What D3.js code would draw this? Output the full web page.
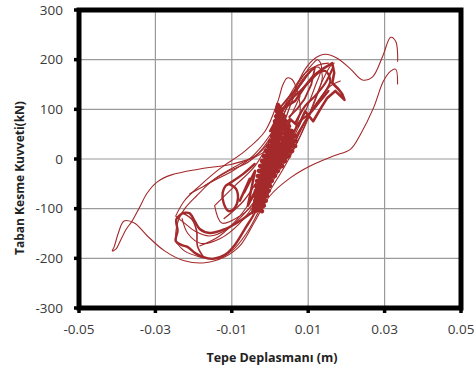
<!DOCTYPE html>
<html><head><meta charset="utf-8">
<script src="https://cdn.jsdelivr.net/npm/d3@7"></script>
<style>body{margin:0;background:#fff}svg{display:block}</style>
</head><body>
<svg id="c" width="474" height="370"></svg>
<script>
const xTicks = [-0.05, -0.03, -0.01, 0.01, 0.03, 0.05];
const xTickLabels = ["-0.05", "-0.03", "-0.01", "0.01", "0.03", "0.05"];
const yTicks = [-300, -200, -100, 0, 100, 200, 300];
const xTitle = "Tepe Deplasmanı (m)";
const yTitle = "Taban Kesme Kuvveti(kN)";

// [displacement (m), base shear (kN)]
const outerLoop = [[0.0334,151],[0.0329,181],[0.0316,177],[0.0297,157],[0.0271,103],[0.0237,50],[0.0211,20],[0.0166,6],[0.0105,-14],[0.0053,-38],[0,-74],[-0.0039,-125],[-0.0079,-175],[-0.0118,-197],[-0.0171,-209],[-0.0224,-205],[-0.0276,-185],[-0.0321,-155],[-0.0355,-129],[-0.0382,-125],[-0.0397,-149],[-0.0408,-177],[-0.0413,-185],[-0.0403,-181],[-0.0392,-165],[-0.0376,-141],[-0.0361,-125],[-0.0342,-98],[-0.0321,-68],[-0.0295,-46],[-0.0258,-32],[-0.0184,-20],[-0.0097,-10],[-0.0039,6],[0,36],[0.0034,86],[0.0066,141],[0.0092,181],[0.0118,203],[0.0145,211],[0.0176,203],[0.0211,181],[0.0242,159],[0.0268,165],[0.0295,207],[0.0316,245],[0.0329,237],[0.0334,213],[0.0334,197]];
const secondLoop = [[0.0079,127],[0.0039,66],[-0.0013,16],[-0.0079,-10],[-0.0145,-40],[-0.0192,-74],[-0.0224,-101],[-0.0242,-129],[-0.0245,-165],[-0.0224,-185],[-0.0184,-197],[-0.0145,-201],[-0.0100,-185],[-0.0061,-149],[-0.0032,-109],[0,-64],[0.0039,-14],[0.0079,46],[0.0111,107],[0.0137,157],[0.0158,187],[0.0168,193]];
const thirdLoop = [[-0.0247,-115],[-0.0224,-84],[-0.0184,-54],[-0.0132,-20],[-0.0066,16],[-0.0013,56],[0.0021,117],[0.0034,150],[0.0045,163],[0.0058,160],[0.0071,137],[0.0079,96],[0.0053,36],[0.0021,-14],[-0.0021,-64],[-0.0066,-109],[-0.0111,-141],[-0.0158,-155],[-0.0197,-145],[-0.0224,-129],[-0.0247,-115]];
const innerLoop = [[-0.0145,-94],[-0.0092,-54],[-0.0039,-14],[0.0013,56],[0.0053,117],[0.0092,167],[0.0126,185],[0.0137,167],[0.0118,117],[0.0079,46],[0.0032,-14],[-0.0021,-74],[-0.0079,-115],[-0.0126,-129],[-0.0145,-94]];
const fourthLoop = [[-0.0210,-70],[-0.0150,-45],[-0.0090,-20],[-0.0040,10],[0.0010,60],[0.0050,120],[0.0085,165],[0.0110,190],[0.0125,200],[0.0135,185],[0.0120,150],[0.0095,100],[0.0060,40],[0.0020,-20],[-0.0030,-80],[-0.0080,-130],[-0.0130,-160],[-0.0180,-170],[-0.0215,-150],[-0.0230,-120]];
const upperBranch = [[-0.0171,-54],[-0.0118,-28],[-0.0053,-4],[-0.0005,36],[0.0026,86],[0.0058,137],[0.0092,173],[0.0126,189],[0.0153,193]];
const lowerBranch = [[-0.0184,-175],[-0.0132,-155],[-0.0079,-115],[-0.0032,-64],[0.0013,-14],[0.0058,36],[0.0092,76],[0.0126,117],[0.0158,147],[0.0184,157]];
const midBranch = [[-0.0120,-120],[-0.0070,-85],[-0.0030,-40],[0.0010,20],[0.0040,80],[0.0065,130],[0.0090,160],[0.0105,175]];
const posCluster1 = [[0.0005,46],[0.0013,76],[0.0032,101],[0.0066,117],[0.0092,147],[0.0113,167],[0.0137,181],[0.0163,193],[0.0168,173],[0.0163,153],[0.0179,141],[0.0189,131],[0.0195,119],[0.0187,125],[0.0171,137],[0.0150,123],[0.0132,101],[0.0113,76],[0.0092,96],[0.0074,66],[0.0053,80],[0.0039,46],[0.0021,16]];
const posCluster2 = [[0,56],[0.0039,107],[0.0079,137],[0.0105,157],[0.0126,173],[0.0145,177],[0.0158,157],[0.0137,127],[0.0118,107],[0.0092,76],[0.0066,36]];
const posCluster3 = [[0.0026,103],[0.0055,130],[0.0080,150],[0.0100,172],[0.0118,185],[0.0108,150],[0.0090,120],[0.0070,100],[0.0050,85]];
const posFan1 = [[0.0066,72],[0.0092,107],[0.0118,127],[0.0145,153],[0.0163,181]];
const posFan2 = [[0.0053,36],[0.0079,76],[0.0105,92],[0.0132,117],[0.0153,137]];
const coreBand = [[-0.0039,-105],[-0.0016,-94],[-0.0039,-84],[-0.0008,-74],[-0.0037,-64],[0,-54],[-0.0034,-44],[0.0013,-34],[-0.0029,-24],[0.0032,-14],[-0.0021,-4],[0.0050,6],[-0.0011,16],[0.0066,26],[0,36],[0.0066,46],[0.0008,56],[0.0050,66],[0.0013,76],[0.0037,86],[0.0018,96],[0.0021,109],
  [0.0029,96],[0.0016,86],[0.0042,76],[0.0011,66],[0.0058,56],[0.0005,46],[0.0068,36],[-0.0005,26],[0.0058,16],[-0.0016,6],[0.0039,-4],[-0.0026,-14],[0.0021,-24],[-0.0032,-34],[0.0005,-44],[-0.0037,-54],[-0.0003,-64],[-0.0039,-74],[-0.0011,-84],[-0.0042,-94],[-0.0021,-105]];
const coreSpikes = [[-0.0079,-84],[-0.0053,-40],[-0.0068,-68],[-0.0039,-24],[-0.0058,-94],[-0.0032,-54],[-0.0047,-109],[-0.0026,-80],[-0.0039,-100]];
const negCluster = [[-0.0229,-109],[-0.0245,-121],[-0.0242,-145],[-0.0247,-165],[-0.0232,-173],[-0.0216,-177],[-0.0197,-189],[-0.0176,-197],[-0.0150,-201],[-0.0118,-193],[-0.0092,-173],[-0.0066,-141],[-0.0039,-105],[-0.0079,-125],[-0.0118,-141],[-0.0158,-149],[-0.0184,-141],[-0.0197,-125],[-0.0211,-109],[-0.0229,-109]];
const negInner = [[-0.0229,-109],[-0.0205,-121],[-0.0192,-145],[-0.0190,-175],[-0.0176,-195]];
const smallLoop = [[-0.0108,-50],[-0.0089,-60],[-0.0084,-80],[-0.0092,-98],[-0.0108,-105],[-0.0121,-90],[-0.0124,-68],[-0.0116,-54],[-0.0108,-50],[-0.0070,-30],[-0.0040,-10]];

const svg = d3.select("#c");
const L = 79, R = 461, T = 10, B = 308;
const x = d3.scaleLinear().domain([-0.05, 0.05]).range([L, R]);
const y = d3.scaleLinear().domain([-300, 300]).range([B, T]);

// grid
svg.append("g").selectAll("line").data(xTicks).join("line")
  .attr("x1", d => x(d)).attr("x2", d => x(d)).attr("y1", T).attr("y2", B)
  .attr("stroke", "#9a9a9a").attr("stroke-width", 1.2);
svg.append("g").selectAll("line").data(yTicks).join("line")
  .attr("x1", L).attr("x2", R).attr("y1", d => y(d)).attr("y2", d => y(d))
  .attr("stroke", "#9a9a9a").attr("stroke-width", 1.2);

svg.append("clipPath").attr("id", "clip").append("rect")
  .attr("x", L).attr("y", T).attr("width", R - L).attr("height", B - T);
const plot = svg.append("g").attr("clip-path", "url(#clip)");
const color = "#a3292b";
const smooth = d3.line().x(d => x(d[0])).y(d => y(d[1])).curve(d3.curveCatmullRom.alpha(0.5));
const jag = d3.line().x(d => x(d[0])).y(d => y(d[1]));

const series = [
  {d: outerLoop, w: 1.1, f: smooth},
  {d: secondLoop, w: 1.1, f: smooth},
  {d: thirdLoop, w: 1.1, f: smooth},
  {d: innerLoop, w: 1.1, f: smooth},
  {d: fourthLoop, w: 1.1, f: smooth},
  {d: upperBranch, w: 1.1, f: smooth},
  {d: lowerBranch, w: 1.1, f: smooth},
  {d: midBranch, w: 1.3, f: smooth},
  {d: posCluster1, w: 2.6, f: jag},
  {d: posCluster2, w: 2.2, f: smooth},
  {d: posCluster3, w: 1.8, f: jag},
  {d: posFan1, w: 2.2, f: smooth},
  {d: posFan2, w: 2.2, f: smooth},
  {d: coreBand, w: 4.5, f: jag},
  {d: coreSpikes, w: 2.5, f: jag},
  {d: negCluster, w: 2.4, f: smooth},
  {d: negInner, w: 1.6, f: smooth},
  {d: smallLoop, w: 2.4, f: smooth}
];
plot.selectAll("path").data(series).join("path")
  .attr("d", s => s.f(s.d)).attr("fill", "none")
  .attr("stroke", color).attr("stroke-width", s => s.w)
  .attr("stroke-linejoin", "round").attr("stroke-linecap", "round");

// frame
svg.append("rect").attr("x", L).attr("y", T).attr("width", R - L).attr("height", B - T)
  .attr("fill", "none").attr("stroke", "#000").attr("stroke-width", 5);

// tick marks
svg.append("g").selectAll("line").data(yTicks).join("line")
  .attr("x1", L - 5).attr("x2", L).attr("y1", d => y(d)).attr("y2", d => y(d))
  .attr("stroke", "#000").attr("stroke-width", 3.5);
svg.append("g").selectAll("line").data(xTicks).join("line")
  .attr("x1", d => x(d)).attr("x2", d => x(d)).attr("y1", B).attr("y2", B + 5)
  .attr("stroke", "#000").attr("stroke-width", 3.5);

const font = "'Open Sans', 'DejaVu Sans', sans-serif";
svg.append("g").selectAll("text").data(yTicks).join("text")
  .attr("x", 63).attr("y", d => y(d)).attr("dy", "0.35em")
  .attr("text-anchor", "end").attr("font-family", font).attr("font-size", 13.5)
  .attr("fill", "#3a3a3a").text(d => d);
svg.append("g").selectAll("text").data(xTicks).join("text")
  .attr("x", d => x(d)).attr("y", 334)
  .attr("text-anchor", "middle").attr("font-family", font).attr("font-size", 13.5)
  .attr("fill", "#3a3a3a").text((d, i) => xTickLabels[i]);

svg.append("text").attr("x", 272).attr("y", 362).attr("text-anchor", "middle")
  .attr("font-family", font).attr("font-size", 12.5).attr("font-weight", "bold")
  .attr("fill", "#222").text(xTitle);
svg.append("text").attr("transform", "translate(24,178) rotate(-90)")
  .attr("text-anchor", "middle")
  .attr("font-family", font).attr("font-size", 12).attr("font-weight", "bold")
  .attr("fill", "#222").text(yTitle);
</script>
</body></html>
